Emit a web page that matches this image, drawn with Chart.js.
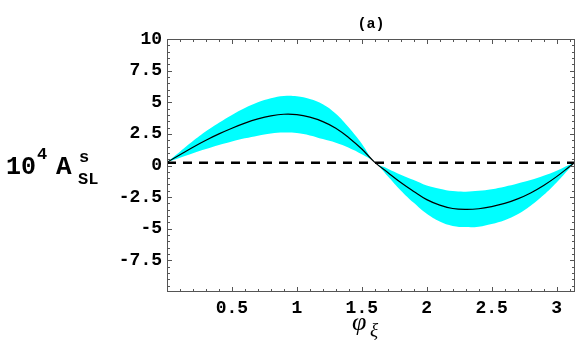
<!DOCTYPE html>
<html>
<head>
<meta charset="utf-8">
<script src="https://cdn.jsdelivr.net/npm/chart.js@4"></script>
<style>
  html, body { margin: 0; padding: 0; background: #fff; }
  #wrap { width: 576px; height: 356px; }
</style>
</head>
<body>
<div id="wrap"><canvas id="chart" width="576" height="356"></canvas></div>
<script>
// phi_xi values (0 .. pi)
const phi = [0, 0.1, 0.2, 0.3, 0.4, 0.5, 0.6, 0.7, 0.8, 0.9, 1.0, 1.1, 1.2, 1.3, 1.4, 1.5,
  1.6, 1.7, 1.8, 1.9, 2.0, 2.1, 2.2, 2.3, 2.4, 2.5, 2.6, 2.7, 2.8, 2.9, 3.0, 3.1, 3.1416];
// central curve
const central = [0.25, 0.85, 1.45, 2.0, 2.5, 2.95, 3.35, 3.68, 3.92, 4.05, 4.02, 3.82, 3.47, 2.95, 2.2, 1.3,
  0.25, -0.55, -1.35, -2.05, -2.7, -3.13, -3.4, -3.47, -3.42, -3.25, -3.0, -2.64, -2.17, -1.58, -0.88, -0.08, 0.25];
// band edges
const upper = [0.25, 1.09, 1.93, 2.7, 3.38, 4.0, 4.55, 5.0, 5.32, 5.5, 5.48, 5.26, 4.85, 4.1, 3.0, 1.72,
  0.25, -0.25, -0.73, -1.15, -1.58, -1.83, -2.02, -2.07, -2.0, -1.87, -1.67, -1.42, -1.15, -0.82, -0.42, 0.05, 0.25];
const lower = [0.25, 0.61, 0.97, 1.3, 1.62, 1.9, 2.15, 2.36, 2.52, 2.6, 2.56, 2.38, 2.09, 1.8, 1.4, 0.88,
  0.25, -0.85, -1.97, -2.95, -3.82, -4.43, -4.78, -4.87, -4.84, -4.63, -4.33, -3.86, -3.19, -2.34, -1.34, -0.21, 0.25];
const refLevel = 0.22;

const xTicks = [0.5, 1, 1.5, 2, 2.5, 3];
const yTicks = [-7.5, -5, -2.5, 0, 2.5, 5, 7.5, 10];

const pts = ys => phi.map((x, i) => ({ x: x, y: ys[i] }));
const mono = 'Liberation Mono, DejaVu Sans Mono, monospace';

// frame with inward ticks on all sides + titles
const framePlugin = {
  id: 'frame',
  afterDraw(chart) {
    const c = chart.ctx, a = chart.chartArea;
    const xs = chart.scales.x, ys = chart.scales.y;
    c.save();
    c.strokeStyle = '#555';
    c.lineWidth = 1;
    c.strokeRect(a.left + 0.5, a.top + 0.5, a.right - a.left - 1, a.bottom - a.top - 1);
    c.beginPath();
    for (let v = 0.1; v < Math.PI; v += 0.1) {
      const px = Math.round(xs.getPixelForValue(v)) + 0.5;
      const major = Math.abs(v * 2 - Math.round(v * 2)) < 1e-6;
      const len = major ? 5 : 3;
      c.moveTo(px, a.bottom); c.lineTo(px, a.bottom - len);
      c.moveTo(px, a.top); c.lineTo(px, a.top + len);
    }
    for (let v = -9.5; v < 10; v += 0.5) {
      const py = Math.round(ys.getPixelForValue(v)) + 0.5;
      const major = Math.abs(v / 2.5 - Math.round(v / 2.5)) < 1e-6;
      const len = major ? 5 : 3;
      c.moveTo(a.left, py); c.lineTo(a.left + len, py);
      c.moveTo(a.right, py); c.lineTo(a.right - len, py);
    }
    c.stroke();

    c.fillStyle = '#000';
    // panel label
    c.font = 'bold 15px ' + mono;
    c.textAlign = 'center';
    c.textBaseline = 'alphabetic';
    c.fillText('(a)', (a.left + a.right) / 2, 28);

    // x title
    c.font = 'italic 26px Liberation Serif, serif';
    c.textAlign = 'left';
    c.fillText('φ', 352, 330);
    c.font = 'italic 19px Liberation Serif, serif';
    c.fillText('ξ', 370, 336);

    // y title 10^4 A^s_SL
    c.font = 'bold 25px ' + mono;
    c.fillText('10', 6, 174);
    c.font = 'bold 17px ' + mono;
    c.fillText('4', 37, 159);
    c.font = 'bold 26px ' + mono;
    c.fillText('A', 56, 174);
    c.font = 'bold 17px ' + mono;
    c.fillText('s', 79, 162);
    c.fillText('SL', 78, 184);
    c.restore();
  }
};

const ctx = document.getElementById('chart');

new Chart(ctx, {
  type: 'line',
  data: {
    datasets: [
      {
        label: 'upper',
        data: pts(upper),
        borderWidth: 0,
        pointRadius: 0,
        backgroundColor: '#00FFFF',
        fill: '+1',
        tension: 0.4,
        order: 2
      },
      {
        label: 'lower',
        data: pts(lower),
        borderWidth: 0,
        pointRadius: 0,
        backgroundColor: '#00FFFF',
        fill: false,
        tension: 0.4,
        order: 2
      },
      {
        label: 'central',
        data: pts(central),
        borderColor: '#000',
        borderWidth: 1.2,
        pointRadius: 0,
        fill: false,
        tension: 0.4,
        order: 1
      },
      {
        label: 'ref',
        data: [{ x: 0, y: refLevel }, { x: Math.PI, y: refLevel }],
        borderColor: '#000',
        borderWidth: 2.6,
        borderDash: [9, 7],
        pointRadius: 0,
        fill: false,
        order: 0
      }
    ]
  },
  options: {
    animation: false,
    responsive: false,
    devicePixelRatio: 1,
    layout: { padding: { top: 39, right: 1, left: 0, bottom: 0 } },
    plugins: { legend: { display: false }, tooltip: { enabled: false }, title: { display: false } },
    scales: {
      x: {
        type: 'linear',
        min: 0,
        max: Math.PI,
        grid: { display: false, drawTicks: false },
        border: { display: false },
        afterBuildTicks: s => { s.ticks = xTicks.map(v => ({ value: v })); },
        afterFit: s => { s.height = 64; },
        ticks: {
          color: '#000',
          padding: 6,
          maxRotation: 0,
          autoSkip: false,
          font: { family: mono, size: 18, weight: 'bold' },
          callback: v => String(v)
        }
      },
      y: {
        min: -10,
        max: 10,
        grid: { display: false, drawTicks: false },
        border: { display: false },
        afterBuildTicks: s => { s.ticks = yTicks.map(v => ({ value: v })); },
        afterFit: s => { s.width = 167; },
        ticks: {
          color: '#000',
          padding: 5,
          autoSkip: false,
          font: { family: mono, size: 18, weight: 'bold' },
          callback: v => String(v)
        }
      }
    }
  },
  plugins: [framePlugin]
});
</script>
</body>
</html>
